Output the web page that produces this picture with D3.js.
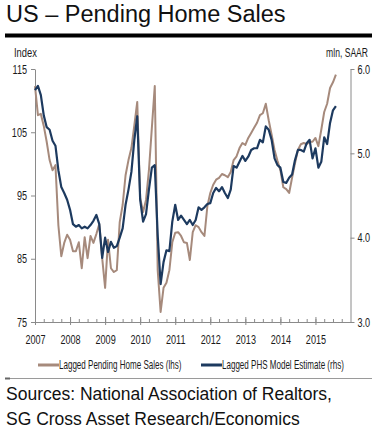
<!DOCTYPE html>
<html><head><meta charset="utf-8">
<script src="https://cdn.jsdelivr.net/npm/d3@7"></script>
<style>
html,body{margin:0;padding:0;background:#fff;}
svg{display:block;font-family:"Liberation Sans",Arial,Helvetica,sans-serif;}
</style></head>
<body>
<svg id="c" width="375" height="427"></svg>
<script>
// ---- data (monthly, Jan 2007 .. Aug 2015) ----
const startYear = 2007;
const pendingHomeSales = [ // lhs, index
112.3,107.7,107.9,106.0,103.5,100.6,99.0,99.8,90.3,85.4,87.5,88.8,
88.0,86.2,86.2,87.6,83.5,88.4,85.1,88.6,87.5,88.9,90.5,85.1,
80.4,88.0,83.5,82.9,83.2,90.8,93.5,98.2,100.6,102.5,106.1,109.8,
94.6,92.4,94.3,99.0,105.7,112.3,83.2,76.6,80.4,81.2,83.2,87.6,
89.1,89.2,88.6,87.6,87.5,84.8,89.2,90.3,90.0,89.2,88.6,93.3,
95.4,96.7,97.5,97.8,98.4,98.2,97.9,98.7,100.6,101.2,102.5,103.3,
103.0,104.1,104.9,105.7,106.5,107.7,108.0,109.5,106.9,104.6,102.2,100.5,
99.0,96.3,96.0,95.4,97.8,100.1,102.2,103.1,103.3,103.1,103.5,103.5,
104.1,102.8,105.4,108.2,109.5,112.0,112.9,114.1
];
const modelEstimate = [ // rhs, mln SAAR
5.75,5.80,5.69,5.45,5.31,5.28,5.15,5.09,4.80,4.60,4.53,4.45,
4.33,4.16,4.13,4.15,4.11,4.13,4.11,4.15,4.20,4.27,4.16,3.76,
4.00,3.83,3.95,3.88,3.90,4.00,4.11,4.39,4.57,4.78,5.16,5.44,
4.45,4.19,4.28,4.57,4.83,4.86,4.03,3.45,3.71,3.85,3.84,4.19,
4.39,4.21,4.26,4.21,4.16,4.21,4.15,4.21,4.36,4.33,4.36,4.40,
4.41,4.53,4.59,4.55,4.60,4.53,4.47,4.57,4.85,4.83,4.90,4.97,
4.91,4.96,5.04,5.06,5.06,5.16,5.13,5.32,5.28,5.16,4.94,4.86,
4.83,4.66,4.65,4.71,4.75,4.92,5.04,5.04,5.02,5.12,5.16,4.94,
5.06,4.83,4.90,5.19,5.11,5.36,5.51,5.56
];
const yearTicks = [2007,2008,2009,2010,2011,2012,2013,2014,2015];
const leftTicks = [75,85,95,105,115];
const rightTicks = [3.0,4.0,5.0,6.0];
const title = "US \u2013 Pending Home Sales";
const seriesNames = ["Lagged Pending Home Sales (lhs)", "Lagged PHS Model Estimate (rhs)"];
const sources = ["Sources: National Association of Realtors,", "SG Cross Asset Research/Economics"];

// ---- layout ----
const L = 35, R = 350.5, T = 69, B = 322;
const brown = "#a68a7c", navy = "#1d3a5f", axisGrey = "#8a8a8a", txt = "#1a1a1a";
const SQ = 0.7;

const svg = d3.select("#c");
const x = d3.scaleLinear().domain([2007, 2016]).range([L, R]);
const yL = d3.scaleLinear().domain([75, 115]).range([B, T]);
const yR = d3.scaleLinear().domain([3, 6]).range([B, T]);

function squeeze(sel, k) {
  sel.each(function () {
    const t = d3.select(this);
    const xx = +t.attr("x") || 0;
    t.attr("x", 0).attr("transform", `translate(${xx},0) scale(${k},1)`);
  });
}

// title
svg.append("text").attr("x", 6).attr("y", 22).attr("font-size", 23.5).attr("fill", "#111").text(title);
svg.append("rect").attr("x", 5).attr("y", 33.5).attr("width", 367).attr("height", 4).attr("fill", "#000");

// unit labels
svg.append("text").attr("transform", "translate(14,57) scale(0.72,1)").attr("font-size", 13).attr("fill", txt).text("Index");
svg.append("text").attr("transform", "translate(368,57) scale(0.66,1)").attr("font-size", 13).attr("fill", txt).attr("text-anchor", "end").text("mln, SAAR");

function styleAxis(g) {
  g.selectAll("path, line").attr("stroke", axisGrey).attr("stroke-width", 1);
  g.selectAll("text").attr("fill", txt).attr("font-size", 13).attr("font-family", null);
}

// left axis
const gl = svg.append("g").attr("transform", `translate(${L},0)`)
  .call(d3.axisLeft(yL).tickValues(leftTicks).tickSize(4).tickSizeOuter(0).tickPadding(4));
styleAxis(gl); squeeze(gl.selectAll("text"), SQ);

// right axis
const gr = svg.append("g").attr("transform", `translate(${R},0)`)
  .call(d3.axisRight(yR).tickValues(rightTicks).tickSize(4).tickSizeOuter(0).tickPadding(3).tickFormat(d3.format(".1f")));
styleAxis(gr); squeeze(gr.selectAll("text"), SQ);

// bottom axis: labels + small outward year ticks
const gb = svg.append("g").attr("transform", `translate(0,${B})`)
  .call(d3.axisBottom(x).tickValues(yearTicks).tickSize(3).tickSizeOuter(0).tickPadding(10).tickFormat(d3.format("d")));
styleAxis(gb); squeeze(gb.selectAll("text"), SQ);
// inward quarterly ticks
const quarters = d3.range(0, 36).map(q => 2007 + q / 4);
const gq = svg.append("g").attr("transform", `translate(0,${B})`)
  .call(d3.axisBottom(x).tickValues(quarters).tickSize(-3).tickFormat(""));
gq.select(".domain").remove(); styleAxis(gq);
const gy = svg.append("g").attr("transform", `translate(0,${B})`)
  .call(d3.axisBottom(x).tickValues(yearTicks).tickSize(-5).tickFormat(""));
gy.select(".domain").remove(); styleAxis(gy);

// lines
const tx = i => x(startYear + i / 12);
const lineL = d3.line().x((d, i) => tx(i)).y(d => yL(d));
const lineR = d3.line().x((d, i) => tx(i)).y(d => yR(d));
svg.append("path").datum(pendingHomeSales).attr("d", lineL)
  .attr("fill", "none").attr("stroke", brown).attr("stroke-width", 2).attr("stroke-linejoin", "round");
svg.append("path").datum(modelEstimate).attr("d", lineR)
  .attr("fill", "none").attr("stroke", navy).attr("stroke-width", 2.2).attr("stroke-linejoin", "round");

// legend
const leg = [{c: brown, x0: 38, name: seriesNames[0]}, {c: navy, x0: 201, name: seriesNames[1]}];
leg.forEach(d => {
  svg.append("line").attr("x1", d.x0).attr("x2", d.x0 + 21).attr("y1", 365).attr("y2", 365)
    .attr("stroke", d.c).attr("stroke-width", 3);
  svg.append("text").attr("transform", `translate(${d.x0 + 21},369) scale(0.67,1)`)
    .attr("font-size", 12).attr("fill", txt).text(d.name);
});

// bottom rule
svg.append("line").attr("x1", 5).attr("x2", 372).attr("y1", 378.5).attr("y2", 378.5).attr("stroke", "#9a9a9a").attr("stroke-width", 1);
svg.append("line").attr("x1", 5).attr("x2", 10).attr("y1", 378.5).attr("y2", 378.5).attr("stroke", "#666").attr("stroke-width", 2);

// sources
sources.forEach((s, i) => {
  svg.append("text").attr("x", 6).attr("y", 399.5 + i * 25).attr("font-size", 17.5).attr("fill", "#111").text(s);
});
</script>
</body></html>
